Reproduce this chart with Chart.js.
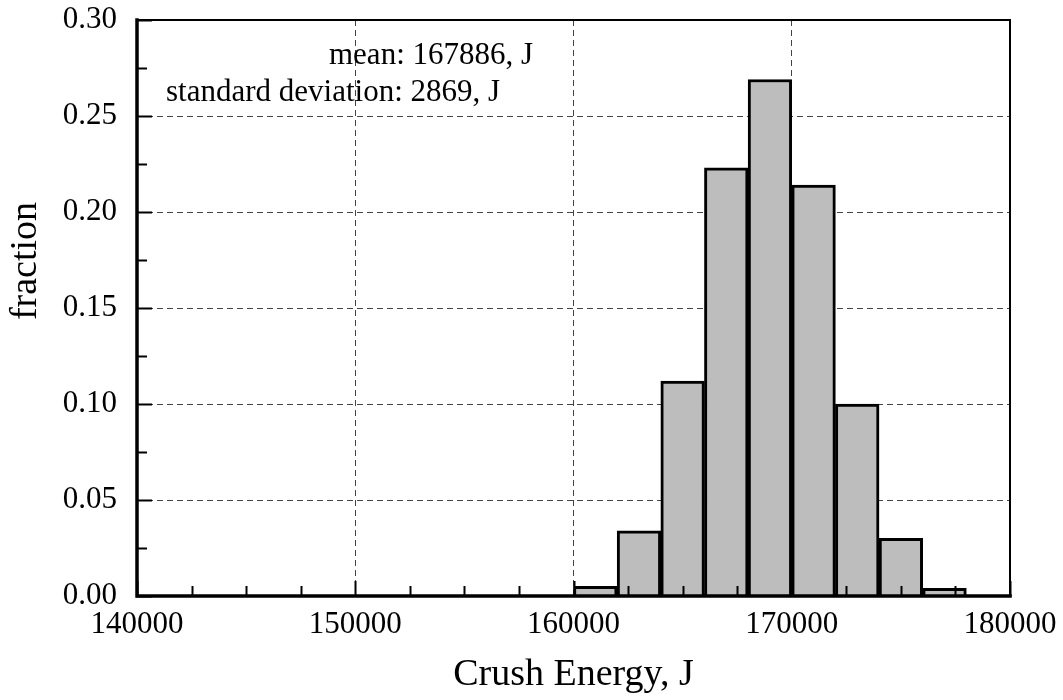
<!DOCTYPE html>
<html>
<head>
<meta charset="utf-8">
<script src="https://cdn.jsdelivr.net/npm/chart.js@4.4.0/dist/chart.umd.min.js"></script>
<style>
  html, body { margin: 0; padding: 0; background: #fff; }
  #wrap { width: 1063px; height: 700px; }
</style>
</head>
<body>
<div id="wrap"><canvas id="chart" width="1063" height="700"></canvas></div>
<script>
// histogram bins (lower edge, J) and fraction in each bin
const binStarts = [160000, 162000, 164000, 166000, 168000, 170000, 172000, 174000, 176000];
const fractions = [0.005, 0.034, 0.112, 0.223, 0.269, 0.214, 0.100, 0.030, 0.004];
const binWidth = 2000;

const xRange = [140000, 180000];
const yRange = [0, 0.30];
const xStep = 10000;
const yStep = 0.05;

const statLines = ["mean: 167886, J", "standard deviation: 2869, J"];
const xTitle = "Crush Energy, J";
const yTitle = "fraction";

const FONT = "'Liberation Serif', 'Times New Roman', serif";

// frame, inward ticks, y title and the stats text
const framePlugin = {
  id: "frame",
  afterDraw(chart) {
    const ctx = chart.ctx;
    const xs = chart.scales.x, ys = chart.scales.y;
    const { left, right, top, bottom } = chart.chartArea;
    ctx.save();
    ctx.strokeStyle = "#000";
    ctx.lineCap = "square";

    // minor/major ticks
    ctx.lineWidth = 2;
    for (let v = xRange[0]; v <= xRange[1]; v += xStep / 4) {
      const px = Math.round(xs.getPixelForValue(v)) + 0.5;
      const len = v % xStep === 0 ? 14 : 9;
      ctx.beginPath(); ctx.moveTo(px, bottom); ctx.lineTo(px, bottom - len); ctx.stroke();
    }
    for (let i = 0; i <= 12; i++) {
      const py = Math.round(ys.getPixelForValue(i * yStep / 2)) + 0.5;
      const len = i % 2 === 0 ? 14 : 9;
      ctx.beginPath(); ctx.moveTo(left, py); ctx.lineTo(left + len, py); ctx.stroke();
    }

    // frame
    ctx.lineWidth = 2;
    ctx.beginPath();
    ctx.moveTo(left, top); ctx.lineTo(right, top); ctx.lineTo(right, bottom);
    ctx.stroke();
    ctx.lineWidth = 3.5;
    ctx.beginPath();
    ctx.moveTo(left, top); ctx.lineTo(left, bottom); ctx.lineTo(right, bottom);
    ctx.stroke();

    // y axis title
    ctx.fillStyle = "#000";
    ctx.font = "38px " + FONT;
    ctx.textAlign = "center";
    ctx.textBaseline = "middle";
    ctx.translate(26, 261);
    ctx.rotate(-Math.PI / 2);
    ctx.fillText(yTitle, 0, 0);
    ctx.restore();

    // stats
    ctx.save();
    ctx.fillStyle = "#000";
    ctx.font = "31px " + FONT;
    ctx.textAlign = "left";
    ctx.textBaseline = "alphabetic";
    ctx.fillText(statLines[0], 329, 64);
    ctx.fillText(statLines[1], 166, 101);
    ctx.restore();
  }
};

const hideEdge = (range) => (c) => {
  const v = c.tick ? c.tick.value : null;
  return (v === null || v <= range[0] + 1e-9 || v >= range[1] - 1e-9) ? "rgba(0,0,0,0)" : "#444";
};

new Chart(document.getElementById("chart").getContext("2d"), {
  type: "bar",
  data: {
    datasets: [{
      data: binStarts.map((s, i) => ({ x: s + binWidth / 2, y: fractions[i] })),
      backgroundColor: "#bdbdbd",
      borderColor: "#000",
      borderWidth: 3,
      barPercentage: 1,
      categoryPercentage: 1
    }]
  },
  options: {
    responsive: false,
    animation: false,
    devicePixelRatio: 1,
    layout: { padding: { top: 20, right: 53, left: 0, bottom: 0 } },
    plugins: {
      legend: { display: false },
      tooltip: { enabled: false }
    },
    scales: {
      x: {
        type: "linear",
        offset: false,
        min: xRange[0],
        max: xRange[1],
        afterFit: (s) => { s.height = 104; s.paddingLeft = 0; s.paddingRight = 0; },
        ticks: {
          stepSize: xStep,
          autoSkip: false,
          maxRotation: 0,
          padding: 10,
          color: "#000",
          font: { family: FONT, size: 31 },
          callback: (v) => String(v)
        },
        grid: { color: hideEdge(xRange), lineWidth: 1, drawTicks: false, offset: false },
        border: { display: false, dash: [6, 4] },
        title: {
          display: true,
          text: xTitle,
          color: "#000",
          font: { family: FONT, size: 38 },
          padding: { top: 0, bottom: 2 }
        }
      },
      y: {
        min: yRange[0],
        max: yRange[1],
        afterFit: (s) => { s.width = 137; s.paddingTop = 0; s.paddingBottom = 0; },
        ticks: {
          stepSize: yStep,
          padding: 20,
          color: "#000",
          font: { family: FONT, size: 31 },
          callback: (v) => Number(v).toFixed(2)
        },
        grid: { color: hideEdge(yRange), lineWidth: 1, drawTicks: false },
        border: { display: false, dash: [6, 4] }
      }
    }
  },
  plugins: [framePlugin]
});
</script>
</body>
</html>
